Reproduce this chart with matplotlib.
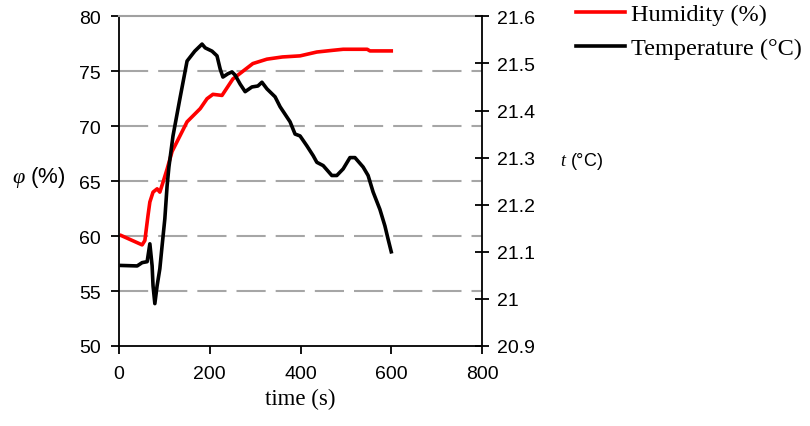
import matplotlib
matplotlib.use('Agg')
import matplotlib.pyplot as plt
from matplotlib.ticker import FuncFormatter

# humidity curve (red, left axis)
hum_time = [5, 51, 57, 64, 68, 75, 84, 90, 97, 106, 117, 150, 179, 194, 207, 227,
            251, 273, 295, 326, 360, 399, 436, 470, 494, 547, 553, 600]
hum_phi = [60.05, 59.2, 59.6, 61.9, 63.1, 64.0, 64.3, 64.0, 64.9, 66.1, 67.7, 70.4,
           71.6, 72.5, 72.9, 72.8, 74.3, 75.0, 75.7, 76.1, 76.3, 76.4, 76.75, 76.9,
           77.0, 77.0, 76.85, 76.85]

# temperature curve (black, right axis)
temp_time = [5, 40, 51, 62, 68, 73, 75, 79, 84, 90, 95, 101, 106, 110, 119, 134, 150,
             167, 183, 190, 205, 216, 223, 229, 240, 249, 256, 267, 278, 293, 306,
             315, 326, 344, 355, 377, 388, 399, 414, 428, 436, 450, 469, 480, 494,
             509, 520, 538, 549, 560, 575, 586, 593, 600]
temp_c = [21.071, 21.070, 21.077, 21.079, 21.117, 21.07, 21.028, 20.99, 21.028,
          21.064, 21.113, 21.17, 21.24, 21.28, 21.346, 21.424, 21.505, 21.526,
          21.541, 21.533, 21.526, 21.516, 21.488, 21.471, 21.478, 21.482, 21.475,
          21.456, 21.44, 21.45, 21.452, 21.46, 21.446, 21.429, 21.408, 21.376,
          21.35, 21.346, 21.325, 21.304, 21.29, 21.283, 21.262, 21.262, 21.276,
          21.3, 21.3, 21.28, 21.262, 21.227, 21.19, 21.155, 21.127, 21.1]

x_ticks = [0, 200, 400, 600, 800]
phi_ticks = [50, 55, 60, 65, 70, 75, 80]
temp_ticks = [20.9, 21.0, 21.1, 21.2, 21.3, 21.4, 21.5, 21.6]

plt.rcParams['font.family'] = 'Liberation Sans'
plt.rcParams['mathtext.fontset'] = 'custom'
plt.rcParams['mathtext.it'] = 'Liberation Serif:italic'
plt.rcParams['mathtext.rm'] = 'Liberation Sans'

fig = plt.figure(figsize=(8.1, 4.27), dpi=100)
ax = fig.add_axes([119/810, 1 - 347/427, (482-119)/810, (347-17.3)/427])
ax2 = ax.twinx()

grid_col = '#a6a6a6'
for v in phi_ticks[1:-1]:
    ax.axhline(v, color=grid_col, lw=1.5, dashes=(14, 4.8), zorder=0)

l1, = ax.plot(hum_time, hum_phi, color='#ff0000', lw=2.6, label='Humidity (%)')
l2, = ax2.plot(temp_time, temp_c, color='black', lw=2.6, label='Temperature (°C)')

ax.set_xlim(0, 800)
ax.set_ylim(50, 80)
ax2.set_ylim(20.9, 21.6)
ax.set_xticks(x_ticks)
ax.set_yticks(phi_ticks)
ax2.set_yticks(temp_ticks)
ax2.yaxis.set_major_formatter(FuncFormatter(lambda v, p: '%g' % round(v, 1)))

ax.spines['top'].set_color('#a0a0a0')
ax.spines['top'].set_linewidth(1.5)
ax.spines['right'].set_visible(False)
ax2.spines['top'].set_visible(False)
ax2.spines['left'].set_visible(False)
ax2.spines['bottom'].set_visible(False)
for s in ['left', 'bottom']:
    ax.spines[s].set_linewidth(1.3)
ax2.spines['right'].set_linewidth(1.3)

ax.tick_params(axis='x', direction='out', length=6, width=1.3, labelsize=14, pad=8)
ax.tick_params(axis='y', direction='out', length=6, width=1.3, labelsize=14, pad=7)
ax2.tick_params(axis='y', direction='inout', length=10, width=1.3, labelsize=14, pad=6)

ax.set_xlabel('time (s)', family='Liberation Serif', fontsize=16.5, labelpad=4)
fig.text(12/810, 1 - 178/427, r'$\varphi$ (%)', fontsize=16, va='center', ha='left')
fig.text(560/810, 1 - 162/427, r'$t$ (°C)', fontsize=13, va='center', ha='left')

fig.legend(handles=[l1, l2], loc='upper left', bbox_to_anchor=(576/810, 1 - 4/427),
           frameon=False, borderpad=0, borderaxespad=0, handlelength=2.0,
           handletextpad=0.25, labelspacing=0.5,
           prop={'family': 'Liberation Serif', 'size': 17.5})

fig.savefig('out.png', dpi=100)
